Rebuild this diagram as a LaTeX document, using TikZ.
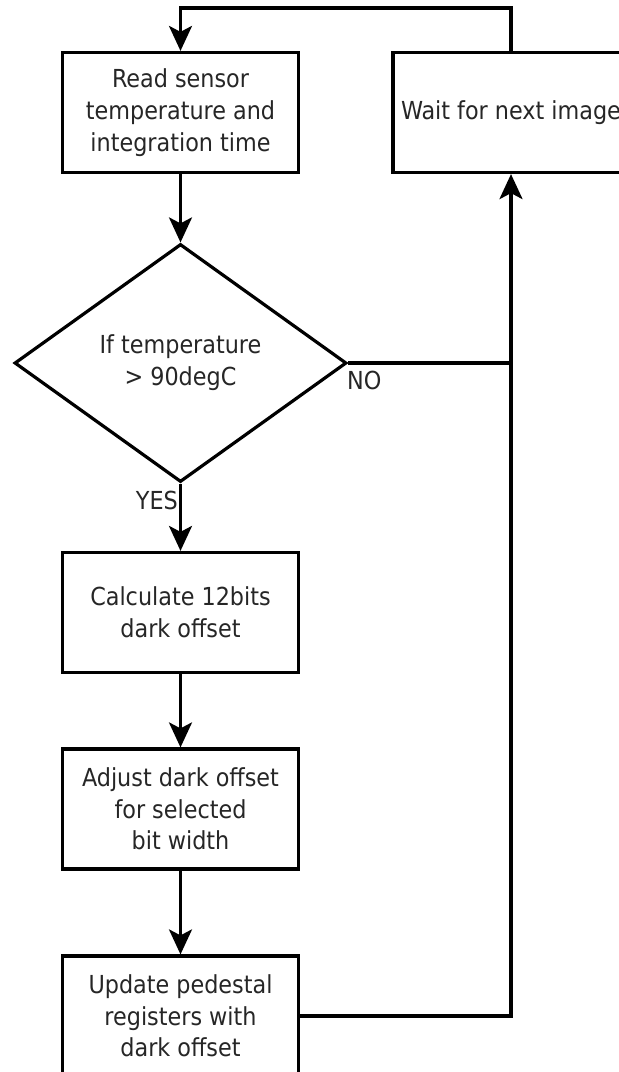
\documentclass[tikz,border=0pt]{standalone}
\usepackage{fontspec}
\setmainfont{DejaVu Sans Condensed}
\usetikzlibrary{arrows.meta,shapes.geometric}
\begin{document}
\begin{tikzpicture}[x=1pt,y=-1pt,
  every node/.style={font=\fontsize{24.8pt}{31.7pt}\selectfont, text=black!85},
  procbox/.style={draw=black, line width=3.2pt, rectangle, minimum width=236pt, minimum height=120pt, inner sep=0pt, align=center},
  decbox/.style={draw=black, line width=3.2pt, diamond, minimum width=332pt, minimum height=238pt, inner sep=0pt, align=center},
  conn/.style={line width=3.2pt, draw=black},
  arr/.style={conn, -{Stealth[length=25pt,width=23pt,inset=6pt]}},
  lbl/.style={inner sep=0pt}]
\useasboundingbox (0,0) rectangle (619,1072);
\clip (0,0) rectangle (619,1072);

\node[procbox] (read) at (180.5,112.5) {Read sensor\\temperature and\\integration time};
\node[procbox] (wait) at (511,112.5) {Wait for next image};
\node[decbox] (dec) at (180.5,363) {If temperature\\> 90degC};
\node[procbox] (calc) at (180.5,612.5) {Calculate 12bits\\dark offset};
\node[procbox] (adj) at (180.5,809) {Adjust dark offset\\for selected\\bit width};
\node[procbox] (upd) at (180.5,1016) {Update pedestal\\registers with\\dark offset};

\coordinate (topleft) at (180.5,8);

\draw[arr] (wait.north) |- (topleft) -- (read.north);
\draw[arr] (read.south) -- (dec.north);
\draw[arr] (dec.south) -- (calc.north);
\draw[arr] (calc.south) -- (adj.north);
\draw[arr] (adj.south) -- (upd.north);
\draw[conn] (dec.east) -- (dec.east -| wait.south);
\draw[arr] (upd.east) -| (wait.south);

\node[lbl, anchor=west] (no) at (347,380) {NO};
\node[lbl, anchor=east] (yes) at (178,500) {YES};
\end{tikzpicture}
\end{document}
